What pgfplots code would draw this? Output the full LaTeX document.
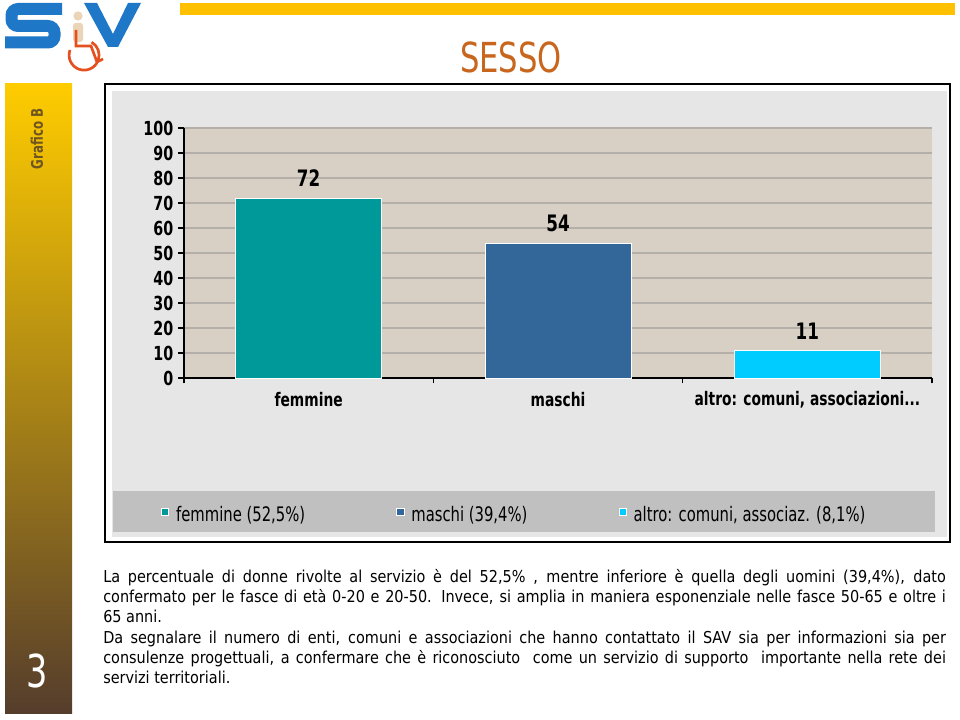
\documentclass[border=0pt]{standalone}
\usepackage{fontspec}
\usepackage{pgfplots}
\pgfplotsset{compat=1.18}
\newfontfamily\sq{DejaVu Sans}[FakeStretch=0.74]
\newfontfamily\sqp{DejaVu Sans}[FakeStretch=0.88]

\definecolor{fem}{HTML}{009999}
\definecolor{mas}{HTML}{336699}
\definecolor{alt}{HTML}{00CCFF}
\definecolor{plotbg}{HTML}{D8D0C4}
\definecolor{outbg}{HTML}{E6E6E6}
\definecolor{gridc}{HTML}{B4AFA8}
\definecolor{legbg}{HTML}{C0C0C0}
\definecolor{titleor}{HTML}{C8661E}
\definecolor{barY}{HTML}{FFC000}
\definecolor{sideA}{HTML}{FFCC00}
\definecolor{sideB}{HTML}{BF9618}
\definecolor{sideC}{HTML}{553D2C}
\definecolor{graft}{HTML}{6E5520}
\definecolor{logob}{HTML}{1F77C8}
\definecolor{logoo}{HTML}{E4501E}
\definecolor{logoc}{HTML}{EBD5B8}

\begin{document}
\begin{tikzpicture}
% slide decoration, in pixels from the top left corner
\begin{scope}[x=0.75pt,y=-0.75pt]
\fill[white] (0,0) rectangle (960,720);
% logo
\draw[logob, line width=9pt, rounded corners=5pt] (62,9)--(11.5,9)--(11.5,26)--(54.5,26)--(54.5,42.5)--(5,42.5);
\fill[logob] (84,3)--(97,3)--(113,34)--(128,3)--(141,3)--(118,47)--(108,47)--cycle;
\fill[logoc] (78,16) circle (3.5pt);
\fill[logoc, rounded corners=2pt] (73,23) rectangle (83,42);
\draw[logoo, line width=2pt] (70,50) arc[start angle=200, end angle=-60, radius=15];
\draw[logoo, line width=2pt] (76,30)--(76,46)--(91,46)--(97,62)--(103,59);
% top bar and title
\fill[barY] (180,3) rectangle (955,15);
\node[text=titleor, font=\sq\fontsize{31}{31}\selectfont] at (511,57) {SESSO};
% side column
\shade[top color=sideA, middle color=sideB, bottom color=sideC] (5,84) rectangle (72,713);
\node[rotate=90, text=graft, font=\sq\bfseries\fontsize{12}{12}\selectfont] at (37,139) {Grafico B};
\node[text=white, font=\sq\fontsize{34}{34}\selectfont] at (37,671) {3};
% chart frame
\draw[black, line width=1.1pt] (105,84) rectangle (950,542);
\fill[outbg] (112,91) rectangle (947,537);
\fill[legbg] (113,491) rectangle (935,532);
% text
\begin{scope}[every node/.style={anchor=base west, inner sep=0pt, font=\sqp\fontsize{12.3}{15}\selectfont}]
\node at (103,582) {\makebox[632pt][s]{La percentuale di donne rivolte al servizio è del 52,5\% , mentre inferiore è quella degli uomini (39,4\%), dato}};
\node at (103,602) {\makebox[632pt][s]{confermato per le fasce di età 0-20 e 20-50. Invece, si amplia in maniera esponenziale nelle fasce 50-65 e oltre i}};
\node at (103,622) {65 anni.};
\node at (103,643) {\makebox[632pt][s]{Da segnalare il numero di enti, comuni e associazioni che hanno contattato il SAV sia per informazioni sia per}};
\node at (103,663) {\makebox[632pt][s]{consulenze progettuali, a confermare che è riconosciuto \ come un servizio di supporto \ importante nella rete dei}};
\node at (103,683) {servizi territoriali.};
\end{scope}
\end{scope}

\begin{axis}[
  at={(138pt,-283.5pt)}, anchor=south west,
  scale only axis, width=561pt, height=187.5pt,
  xmin=-0.5, xmax=2.5, ymin=0, ymax=100,
  ybar, bar width=0.585, bar shift=0pt,
  axis x line*=bottom, axis y line*=left,
  axis line style={black, line width=1pt},
  axis background/.style={fill=plotbg},
  ytick={0,10,...,100},
  xtick={0,1,2},
  xticklabels={femmine, maschi, {altro: comuni, associazioni.\kern0pt.\kern0pt.}},
  minor xtick={-0.5,0.5,1.5,2.5},
  major x tick style={draw=none},
  tick align=outside, major tick length=4.5pt, minor tick length=4pt,
  tick style={black, line width=0.8pt},
  ymajorgrids, major grid style={gridc, line width=0.8pt},
  /pgf/number format/assume math mode=true,
  ticklabel style={font=\sq\bfseries\fontsize{14.5}{14.5}\selectfont},
  xticklabel style={anchor=center, yshift=-12pt, font=\sq\bfseries\fontsize{14}{14}\selectfont},
  nodes near coords,
  every node near coord/.append style={font=\sq\bfseries\fontsize{17}{17}\selectfont, inner sep=0pt, yshift=8pt, text=black},
  legend image code/.code={\draw[#1, draw=white, line width=0.5pt] (0pt,-0.8pt) rectangle (5.4pt,4.6pt);},
  legend columns=3,
  legend cell align=left,
  legend style={at={(-0.03075,-0.546)}, anchor=west, draw=none, fill=none, inner sep=0pt,
    nodes={inner sep=0pt}, font=\sq\fontsize{15}{17}\selectfont,
    /tikz/every odd column/.append style={column sep=5.25pt},
    /tikz/every even column/.append style={column sep=68.5pt}},
]
\addplot[fill=fem, draw=white, line width=0.6pt] coordinates {(0,72)};
\addplot[fill=mas, draw=white, line width=0.6pt] coordinates {(1,54)};
\addplot[fill=alt, draw=white, line width=0.6pt] coordinates {(2,11)};
\legend{{femmine (52,5\%)}, {maschi (39,4\%)}, {altro: comuni, associaz. (8,1\%)}}
\end{axis}
\pgfresetboundingbox
\useasboundingbox (0pt,0pt) rectangle (720pt,-540pt);
\end{tikzpicture}
\end{document}
